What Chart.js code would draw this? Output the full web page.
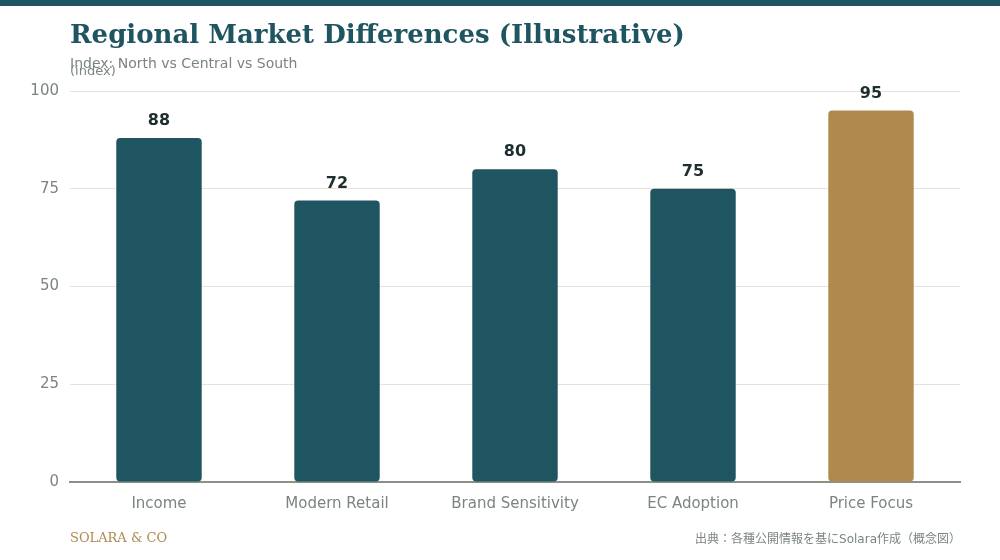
<!DOCTYPE html>
<html>
<head>
<meta charset="utf-8">
<script src="https://cdn.jsdelivr.net/npm/chart.js@4.4.1/dist/chart.umd.min.js"></script>
<style>
  html, body { margin: 0; padding: 0; background: #ffffff; }
  #wrap { position: relative; width: 1000px; height: 560px; overflow: hidden; }
  #topbar { position: absolute; left: 0; top: 0; width: 1000px; height: 6px; background: #1f5461; }
  #title { position: absolute; left: 70px; top: 19px; font: bold 26px "DejaVu Serif", serif; color: #1f5461; white-space: nowrap; }
  #subtitle { position: absolute; left: 70px; top: 55px; font: 14px "DejaVu Sans", sans-serif; color: #7a8580; white-space: nowrap; }
  #unit { position: absolute; left: 70px; top: 63px; font: 13px "DejaVu Sans", sans-serif; color: #7a8580; white-space: nowrap; }
  #brand { position: absolute; left: 70px; top: 530px; font: 13px "DejaVu Serif", serif; color: #b0894f; white-space: nowrap; }
  #source { position: absolute; right: 39px; top: 529px; font: 12px "DejaVu Sans", "Noto Sans CJK JP", sans-serif; color: #7a8580; white-space: nowrap; }
  #chartBox { position: absolute; left: 0; top: 0; width: 1000px; height: 560px; }
</style>
</head>
<body>
<div id="wrap">
  <div id="chartBox"><canvas id="chart"></canvas></div>
  <div id="topbar"></div>
  <div id="title">Regional Market Differences (Illustrative)</div>
  <div id="subtitle">Index: North vs Central vs South</div>
  <div id="unit">(index)</div>
  <div id="brand">SOLARA &amp; CO</div>
  <div id="source">出典：各種公開情報を基にSolara作成（概念図）</div>
</div>
<script>
const categories = ['Income', 'Modern Retail', 'Brand Sensitivity', 'EC Adoption', 'Price Focus'];
const indexValues = [88, 72, 80, 75, 95];
const barColors = ['#1f5461', '#1f5461', '#1f5461', '#1f5461', '#b0894f'];
const yTicks = [0, 25, 50, 75, 100];

// draw the value above every bar
const valueLabels = {
  id: 'valueLabels',
  afterDatasetsDraw(chart) {
    const ctx = chart.ctx;
    const meta = chart.getDatasetMeta(0);
    ctx.save();
    ctx.font = 'bold 16px "DejaVu Sans", sans-serif';
    ctx.fillStyle = '#1e2e2e';
    ctx.textAlign = 'center';
    ctx.textBaseline = 'bottom';
    meta.data.forEach((bar, i) => {
      ctx.fillText(String(chart.data.datasets[0].data[i]), bar.x, bar.y - 9);
    });
    ctx.restore();
  }
};

const ctx = document.getElementById('chart').getContext('2d');
new Chart(ctx, {
  type: 'bar',
  data: {
    labels: categories,
    datasets: [{
      data: indexValues,
      backgroundColor: barColors,
      borderRadius: 4,
      borderSkipped: false,
      barPercentage: 0.6,
      categoryPercentage: 0.8
    }]
  },
  options: {
    responsive: true,
    maintainAspectRatio: false,
    animation: false,
    layout: { padding: { top: 91, right: 40, bottom: 38, left: 0 } },
    plugins: {
      legend: { display: false },
      tooltip: { enabled: false }
    },
    scales: {
      x: {
        grid: { display: false, drawTicks: false },
        border: { display: true, color: '#8a9188', width: 2 },
        ticks: {
          color: '#7a8580',
          font: { family: '"DejaVu Sans", sans-serif', size: 15 },
          padding: 13
        },
        afterFit(scale) { scale.height = 40; }
      },
      y: {
        min: 0,
        max: 100,
        afterBuildTicks(scale) { scale.ticks = yTicks.map(v => ({ value: v })); },
        grid: { color: '#e8e2d8', drawTicks: false, lineWidth: 1 },
        border: { display: false },
        ticks: {
          color: '#7a8580',
          font: { family: '"DejaVu Sans", sans-serif', size: 15 },
          padding: 11
        },
        afterFit(scale) { scale.width = 70; }
      }
    }
  },
  plugins: [valueLabels]
});
</script>
</body>
</html>
